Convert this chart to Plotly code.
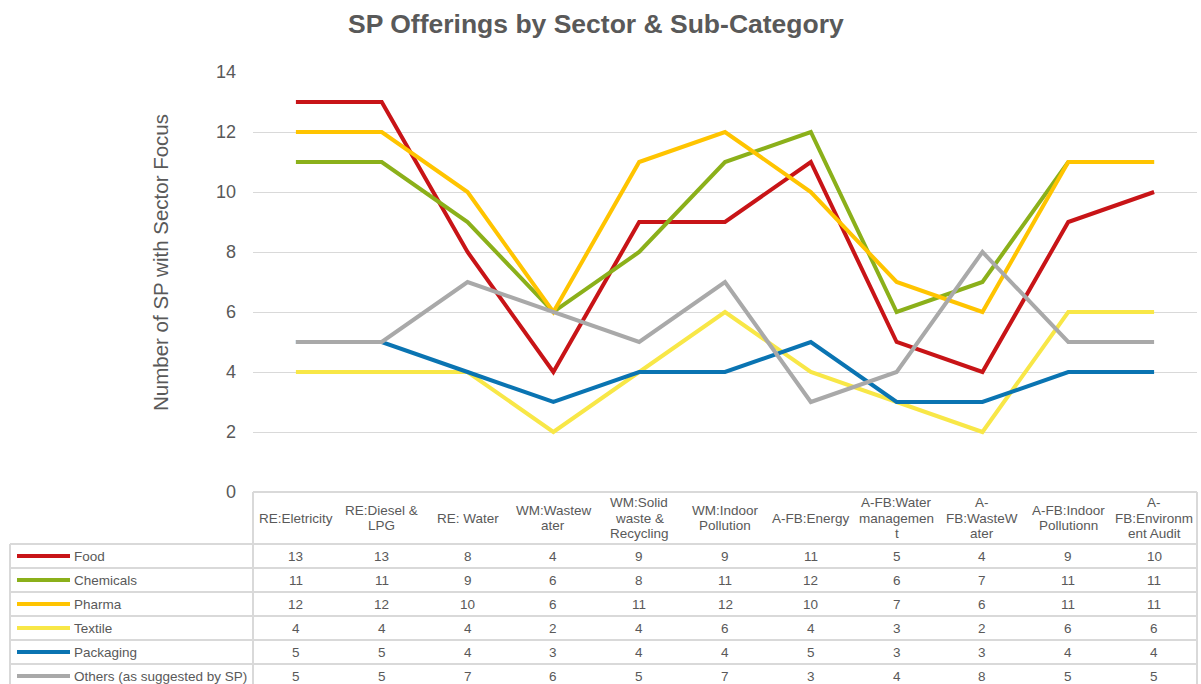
import plotly.graph_objects as go

categories = ["RE:Eletricity", "RE:Diesel &\nLPG", "RE: Water", "WM:Wastew\nater",
              "WM:Solid\nwaste &\nRecycling", "WM:Indoor\nPollution", "A-FB:Energy",
              "A-FB:Water\nmanagemen\nt", "A-\nFB:WasteW\nater", "A-FB:Indoor\nPollutionn",
              "A-\nFB:Environm\nent Audit"]

series_names = ["Food", "Chemicals", "Pharma", "Textile", "Packaging", "Others (as suggested by SP)"]
food = [13, 13, 8, 4, 9, 9, 11, 5, 4, 9, 10]
chemicals = [11, 11, 9, 6, 8, 11, 12, 6, 7, 11, 11]
pharma = [12, 12, 10, 6, 11, 12, 10, 7, 6, 11, 11]
textile = [4, 4, 4, 2, 4, 6, 4, 3, 2, 6, 6]
packaging = [5, 5, 4, 3, 4, 4, 5, 3, 3, 4, 4]
others = [5, 5, 7, 6, 5, 7, 3, 4, 8, 5, 5]
series_values = [food, chemicals, pharma, textile, packaging, others]
colors = ["#C81417", "#8BB01A", "#FFC400", "#F8E747", "#0A74B2", "#A9A9A9"]
y_ticks = [0, 2, 4, 6, 8, 10, 12, 14]

W, H = 1201, 684
FONT = "Liberation Sans, Arial, sans-serif"
TXT = "#595959"
GRID = "#D9D9D9"

def px(x):
    return x / W

def py(y):
    return 1 - y / H

PL, PR, PT, PB = 253, 1197, 72, 492

fig = go.Figure()
idx = list(range(len(categories)))
for name, vals, col in zip(series_names, series_values, colors):
    fig.add_trace(go.Scatter(x=idx, y=vals, mode="lines", name=name,
                             line=dict(color=col, width=4), showlegend=False,
                             hoverinfo="skip"))

fig.update_layout(
    width=W, height=H, margin=dict(l=0, r=0, t=0, b=0, pad=0, autoexpand=False),
    paper_bgcolor="white", plot_bgcolor="white",
    font=dict(family=FONT, color=TXT),
    xaxis=dict(domain=[px(PL), px(PR)], range=[-0.5, len(categories) - 0.5],
               showticklabels=False, showgrid=False, zeroline=False, showline=False,
               ticks="", automargin=False),
    yaxis=dict(domain=[py(PB), py(PT)], range=[0, 14], tickvals=y_ticks,
               showgrid=True, gridcolor=GRID, gridwidth=1, zeroline=False,
               showline=False, ticks="", tickfont=dict(size=18, color=TXT, family=FONT),
               ticklabelstandoff=16, automargin=False),
)

shapes = []
ann = []

def hline(y, x0, x1):
    shapes.append(dict(type="line", xref="paper", yref="paper", x0=px(x0), x1=px(x1),
                       y0=py(y), y1=py(y), line=dict(color=GRID, width=2)))

def vline(x, y0, y1):
    shapes.append(dict(type="line", xref="paper", yref="paper", x0=px(x), x1=px(x),
                       y0=py(y0), y1=py(y1), line=dict(color=GRID, width=2)))

hline(PB, PL, PR)
row_h = 24
header_bottom = 544
for i in range(len(series_names)):
    hline(header_bottom + i * row_h, 10, PR)
vline(PL, PB, H + 5)
vline(PR, PB, H + 5)
vline(10, header_bottom, H + 5)

# header labels
hc = (PB + header_bottom) / 2
lh = 15.5
for i, c in enumerate(categories):
    lines = c.split("\n")
    n = len(lines)
    for j, t in enumerate(lines):
        yy = hc + (j - (n - 1) / 2) * lh
        ann.append(dict(x=i, xref="x", y=py(yy), yref="paper", text=t, showarrow=False,
                        xanchor="center", yanchor="middle",
                        font=dict(size=13.5, color=TXT, family=FONT)))

# rows
for r, (name, vals, col) in enumerate(zip(series_names, series_values, colors)):
    yc = header_bottom + row_h / 2 + r * row_h
    shapes.append(dict(type="line", xref="paper", yref="paper", x0=px(17), x1=px(70),
                       y0=py(yc), y1=py(yc), line=dict(color=col, width=4)))
    ann.append(dict(x=px(72), xref="paper", y=py(yc), yref="paper", text=name,
                    showarrow=False, xanchor="left", yanchor="middle",
                    font=dict(size=13.5, color=TXT, family=FONT)))
    for i, v in enumerate(vals):
        ann.append(dict(x=i, xref="x", y=py(yc), yref="paper", text=str(v),
                        showarrow=False, xanchor="center", yanchor="middle",
                        font=dict(size=13.5, color=TXT, family=FONT)))

ann.append(dict(x=px(596), xref="paper", y=py(24), yref="paper",
                text="<b>SP Offerings by Sector &amp; Sub-Category</b>", showarrow=False,
                xanchor="center", yanchor="middle",
                font=dict(size=26.5, color=TXT, family=FONT)))
ann.append(dict(x=px(160), xref="paper", y=py(263), yref="paper",
                text="Number of SP with Sector Focus", showarrow=False, textangle=-90,
                xanchor="center", yanchor="middle",
                font=dict(size=20.5, color=TXT, family=FONT)))

fig.update_layout(shapes=shapes, annotations=ann)
fig.write_html("out.html", config={"displayModeBar": False},
               post_script="document.body.style.margin='0';document.body.style.overflow='hidden';")
